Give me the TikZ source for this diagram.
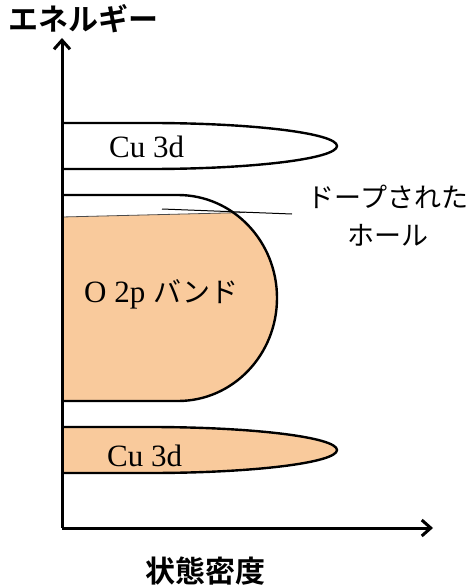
\documentclass[tikz,border=0pt]{standalone}
\usepackage{fontspec}
\setmainfont{Liberation Serif}
\newfontfamily\jp{Noto Sans CJK JP}
\newfontfamily\jpb{Noto Sans CJK JP Bold}
\usetikzlibrary{arrows.meta}
\definecolor{peach}{RGB}{249,202,156}
\begin{document}
\begin{tikzpicture}[x=1pt,y=-1pt,
  axisline/.style={line width=3pt,-{Straight Barb[length=9pt,width=16pt,line width=3pt]}},
  bandline/.style={line width=2.4pt},
  lbl/.style={inner sep=0pt,font=\fontsize{31}{34}\selectfont},
  jplbl/.style={inner sep=0pt,font=\jp\fontsize{27}{30}\selectfont},
  axlbl/.style={inner sep=0pt,font=\jpb\fontsize{30}{33}\selectfont}]
\useasboundingbox (0,0) rectangle (471,588);
\coordinate (o) at (62,528);
\coordinate (ytop) at (62,38);
\coordinate (xend) at (433,528);
% O 2p band fill
\begin{scope}
  \clip (62,217) -- (300,211) -- (300,410) -- (62,410) -- cycle;
  \fill[peach] (62,195) -- (178,195) .. controls (232.7,195) and (277,241) .. (277,298)
     .. controls (277,355) and (232.7,401) .. (178,401) -- (62,401) -- cycle;
\end{scope}
\draw[line width=0.8pt,black!70] (62,217) -- (245,212.5);
\draw[bandline] (62,195) -- (178,195) .. controls (232.7,195) and (277,241) .. (277,298)
     .. controls (277,355) and (232.7,401) .. (178,401) -- (62,401);
% top Cu 3d
\draw[bandline] (62,123) -- (150,123) .. controls (253,123) and (337,133.3) .. (337,146)
     .. controls (337,158.7) and (253,169) .. (150,169) -- (62,169);
% bottom Cu 3d
\draw[bandline,fill=peach] (62,427) -- (150,427) .. controls (253,427) and (337,437.3) .. (337,450)
     .. controls (337,462.7) and (253,473) .. (150,473) -- (62,473);
% axes
\draw[axisline] (o) -- (ytop);
\draw[axisline] (o) -- (xend);
% leader line
\coordinate (l1) at (162,209);
\coordinate (l2) at (292,214);
\draw[line width=1pt] (l1) -- (l2);
% labels
\node[axlbl,anchor=west] (ene) at (8,19) {エネルギー};
\node[axlbl] (dos) at (205,571) {状態密度};
\node[lbl,anchor=west] (cu1) at (109,147) {Cu 3d};
\node[lbl,anchor=west] (cu2) at (107,456) {Cu 3d};
\node[lbl,anchor=west] (o2p) at (84,294) {O 2p {\jp\fontsize{28}{30}\selectfont バンド}};
\node[jplbl] (dope) at (388,197) {ドープされた};
\node[jplbl] (hole) at (388,235) {ホール};
\end{tikzpicture}
\end{document}
